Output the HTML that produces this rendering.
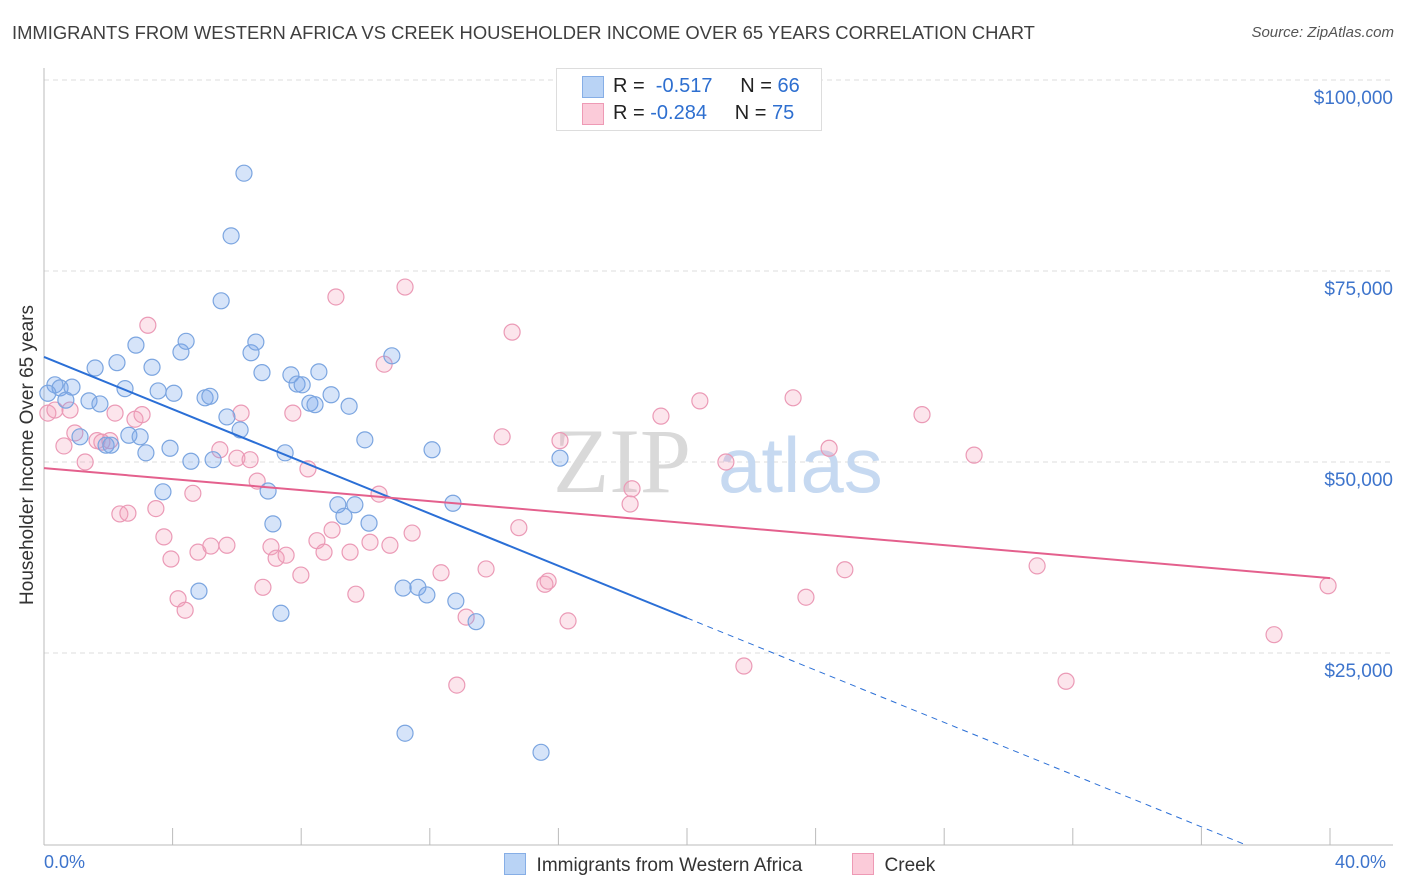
<!DOCTYPE html>
<html><head><meta charset="utf-8"><style>
body{margin:0;background:#fff;font-family:"Liberation Sans",sans-serif;}
#wrap{position:relative;width:1406px;height:892px;overflow:hidden;}
.t{position:absolute;white-space:nowrap;}
</style></head><body>
<div id="wrap">
<div class="t" style="left:12px;top:22px;font-size:18.4px;color:#3f3f3f;">IMMIGRANTS FROM WESTERN AFRICA VS CREEK HOUSEHOLDER INCOME OVER 65 YEARS CORRELATION CHART</div>
<div class="t" style="right:12px;top:24px;font-size:15px;color:#555;font-style:italic;">Source: ZipAtlas.com</div>
<svg id="svg" width="1406" height="892" style="position:absolute;left:0;top:0"></svg>
</div>
<script>
const blueX=[0.34,0.50,0.87,0.68,1.40,1.12,1.59,1.74,1.93,2.08,2.27,2.52,2.64,2.86,2.99,3.17,3.36,3.55,3.70,3.92,4.04,4.26,4.42,4.57,4.82,5.01,5.16,5.26,5.51,5.69,5.82,6.10,6.22,6.44,6.59,6.78,6.97,7.12,7.37,7.50,7.68,7.87,8.03,8.27,8.43,8.55,8.93,9.14,9.33,9.49,9.67,9.98,10.11,10.82,11.17,11.23,11.63,11.91,12.07,12.72,12.81,13.44,15.46,16.05,0.12];
const blueY=[60100,59700,59800,58100,58000,53300,62300,57600,52200,52200,63000,59600,53500,65300,53300,51200,62400,59300,46100,51800,59000,64400,65800,50100,33100,58400,58600,50300,71100,55900,79600,54200,87800,64300,65700,61700,46200,41900,30200,51200,61400,60200,60100,57700,57500,61800,58800,44400,42900,57300,44400,52900,42000,63900,33500,14500,33600,32600,51600,44600,31800,29100,12000,50500,59000];
const pinkX=[0.12,0.34,0.81,0.62,0.96,1.28,1.65,1.80,2.05,2.21,2.36,2.61,2.83,3.05,3.23,3.48,3.73,3.95,4.17,4.39,4.63,4.79,5.19,5.47,5.69,6.00,6.13,6.41,6.63,6.81,7.06,7.22,7.53,7.74,7.99,8.21,8.49,8.71,8.96,9.08,9.52,9.70,10.14,10.42,10.58,10.76,11.23,11.45,12.35,12.84,13.13,13.75,14.25,14.56,14.77,15.58,15.68,16.05,16.30,18.23,18.29,19.19,20.40,21.21,21.77,23.30,23.70,24.42,24.91,27.31,28.93,30.89,31.79,38.26,39.94];
const pinkY=[56400,56800,56800,52100,53800,50000,52800,52600,52800,56400,43200,43300,55600,56200,67900,43900,40200,37300,32100,30600,45900,38200,39000,51600,39100,50500,56400,50300,47500,33600,38900,37400,37800,56400,35200,49100,39700,38200,41100,71600,38200,32700,39500,45800,62800,39100,72900,40700,35500,20800,29700,36000,53300,67000,41400,34000,34400,52800,29200,44500,46500,56000,58000,50000,23300,58400,32300,51800,35900,56200,50900,36400,21300,27400,33800];
const trendBlue=[63750,29580];   // value at 0% and 20%
const trendPink=[49200,34800];   // value at 0% and 40%
const yTicks=[25000,50000,75000,100000];
const yTickLabels=["$25,000","$50,000","$75,000","$100,000"];

const X0=44,X1=1330,YB=844;
const sx=p=>X0+(X1-X0)*p/40;
const sy=v=>YB-v*191/25000;
const svg=document.getElementById('svg');
const NS='http://www.w3.org/2000/svg';
function mk(tag,attrs){const e=document.createElementNS(NS,tag);for(const k in attrs)e.setAttribute(k,attrs[k]);svg.appendChild(e);return e;}
yTicks.forEach((v,i)=>{
  const g=mk('line',{x1:X0,x2:1393,y1:sy(v),y2:sy(v),stroke:'#dcdcdc','stroke-dasharray':'5,4','stroke-width':1});
  
  
  const t=mk('text',{x:1393,y:sy(v)+24,'text-anchor':'end','font-size':19,fill:'#3d74cc','font-family':'Liberation Sans, sans-serif'});
  t.textContent=yTickLabels[i];
  
  
});
let a=mk('line',{x1:X0,x2:X0,y1:68,y2:845,stroke:'#bbb'});


a=mk('line',{x1:X0,x2:1393,y1:845,y2:845,stroke:'#bbb'});


for(let i=0;i<=10;i++){const tk=mk('line',{x1:sx(i*4),x2:sx(i*4),y1:828,y2:845,stroke:'#bbb'});

}
let w=mk('text',{x:553,y:492,'font-size':92,fill:'#d9d9d9','font-family':'Liberation Serif, serif'});w.textContent='ZIP';


w=mk('text',{x:718,y:492,'font-size':78,fill:'#c6d9f1','font-family':'Liberation Sans, sans-serif'});w.textContent='atlas';


pinkX.forEach((p,i)=>{const c=mk('circle',{cx:sx(p),cy:sy(pinkY[i]),r:8,fill:'rgba(244,160,188,0.28)',stroke:'#eb9ab6','stroke-width':1.2});

});
blueX.forEach((p,i)=>{const c=mk('circle',{cx:sx(p),cy:sy(blueY[i]),r:8,fill:'rgba(120,165,235,0.3)',stroke:'#7ba5e0','stroke-width':1.2});

});
const bAt=p=>trendBlue[0]+(trendBlue[1]-trendBlue[0])*p/20;
let l=mk('line',{x1:sx(0),y1:sy(bAt(0)),x2:sx(20),y2:sy(bAt(20)),stroke:'#2b6fd6','stroke-width':2});


const pEnd=trendBlue[0]/(trendBlue[0]-trendBlue[1])*20;
l=mk('line',{x1:sx(20),y1:sy(bAt(20)),x2:sx(pEnd),y2:sy(0),stroke:'#2b6fd6','stroke-width':1,'stroke-dasharray':'6,5'});


l=mk('line',{x1:sx(0),y1:sy(trendPink[0]),x2:sx(40),y2:sy(trendPink[1]),stroke:'#e4608d','stroke-width':2});


</script>
<div class="t" style="left:-132px;top:444px;transform:rotate(-90deg);font-size:19px;color:#333;width:320px;text-align:center;">Householder Income Over 65 years</div>
<div class="t" style="left:44px;top:852px;font-size:18px;color:#3d74cc;">0.0%</div>
<div class="t" style="left:1335px;top:852px;font-size:18px;color:#3d74cc;">40.0%</div>
<div style="position:absolute;left:556px;top:68px;width:264px;height:61px;border:1px solid #ddd;background:#fff;font-size:20px;">
  <div style="position:absolute;left:25px;top:7px;width:20px;height:20px;background:#b9d3f5;border:1px solid #86aee6;"></div>
  <div class="t" style="left:56px;top:6px;color:#222;">R = &nbsp;<span style="color:#2e6fd0">-0.517</span>&nbsp;&nbsp;&nbsp;&nbsp; N = <span style="color:#2e6fd0">66</span></div>
  <div style="position:absolute;left:25px;top:34px;width:20px;height:20px;background:#fbcbd9;border:1px solid #ee9ab5;"></div>
  <div class="t" style="left:56px;top:33px;color:#222;">R = <span style="color:#2e6fd0">-0.284</span>&nbsp;&nbsp;&nbsp;&nbsp; N = <span style="color:#2e6fd0">75</span></div>
</div>
<div style="position:absolute;left:504px;top:853px;font-size:19px;color:#333;">
  <span style="display:inline-block;width:20px;height:20px;background:#b9d3f5;border:1px solid #86aee6;vertical-align:-4px;"></span>&nbsp; Immigrants from Western Africa</div>
<div style="position:absolute;left:852px;top:853px;font-size:19px;color:#333;">
  <span style="display:inline-block;width:20px;height:20px;background:#fbcbd9;border:1px solid #ee9ab5;vertical-align:-4px;"></span>&nbsp; Creek</div>
</body></html>
